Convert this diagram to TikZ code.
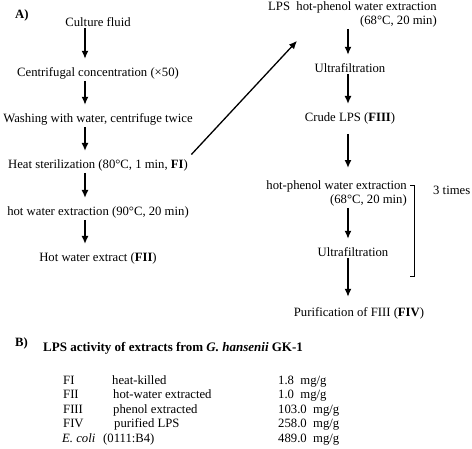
\documentclass[tikz,border=0pt]{standalone}
\usepackage{fontspec}
\setmainfont{Liberation Serif}
\usetikzlibrary{arrows.meta}

\begin{document}
\begin{tikzpicture}[
    x=1pt, y=-1pt,
    every node/.style={inner sep=0pt, font=\fontsize{12.7}{14}\selectfont},
    stage/.style={anchor=base},
    twoline/.style={anchor=north east, align=right},
    row/.style={anchor=base west},
    flow/.style={-{Latex[length=8pt,width=7pt]}, line width=1.6pt, shorten <=2pt, shorten >=8pt}
]
\useasboundingbox (0,0) rectangle (472,448);

% Column guides
\coordinate (lcol) at (85,0);
\coordinate (rcol) at (348,0);

% Panel A, left column
\node[anchor=west, font=\fontsize{12.7}{14}\bfseries] (labA) at (15,15) {A)};
\node[stage] (culture) at (98,26) {Culture fluid};
\node[stage] (centri) at (98,76) {Centrifugal concentration (×50)};
\node[stage] (washing) at (98,122) {Washing with water, centrifuge twice};
\node[stage] (heat) at (98,168) {Heat sterilization (80°C, 1 min, \textbf{FI})};
\node[stage] (hotwater) at (98,215) {hot water extraction (90°C, 20 min)};
\node[stage] (extract) at (98,261) {Hot water extract (\textbf{FII})};

% Panel A, right column
\node[twoline] (lps) at (437,1) {LPS\ \ hot-phenol water extraction\\(68°C, 20 min)};
\node[stage] (ultraA) at (350,72) {Ultrafiltration};
\node[stage] (crude) at (350,121) {Crude LPS (\textbf{FIII})};
\node[twoline] (phenol) at (407,180) {hot-phenol water extraction\\(68°C, 20 min)};
\node[stage] (ultraB) at (353,256) {Ultrafiltration};
\node[stage] (purif) at (359,316) {Purification of FIII (\textbf{FIV})};

% Repeat bracket
\draw[line width=0.8pt] (410,185) -- (414,185) -- (414,276) -- (410,276);
\node[anchor=base west] (times) at (433,194) {3 times};

% Arrows
\draw[flow] (culture.south -| lcol) -- (centri.north -| lcol);
\draw[flow] (centri.south -| lcol) -- (washing.north -| lcol);
\draw[flow] (washing.south -| lcol) -- (heat.north -| lcol);
\draw[flow] (heat.south -| lcol) -- (hotwater.north -| lcol);
\draw[flow] (hotwater.south -| lcol) -- (extract.north -| lcol);
\draw[flow, line width=1.3pt, shorten >=0pt] ([xshift=2pt, yshift=9pt]heat.east) -- ([xshift=29pt, yshift=-14pt]lps.south west);
\draw[flow] (lps.south -| rcol) -- (ultraA.north -| rcol);
\draw[flow] (ultraA.south -| rcol) -- (crude.north -| rcol);
\draw[flow, shorten <=10pt, shorten >=12pt] (crude.south -| rcol) -- (phenol.north -| rcol);
\draw[flow] (phenol.south -| rcol) -- (ultraB.north -| rcol);
\draw[flow, shorten >=10pt] (ultraB.south -| rcol) -- (purif.north -| rcol);

% Panel B
\node[anchor=west, font=\fontsize{12.7}{14}\bfseries] (labB) at (15,343) {B)};
\node[row, font=\fontsize{13}{14}\bfseries] (title) at (43,351) {LPS activity of extracts from \textit{G. hansenii} GK-1};

\node[row] (fi) at (63,384) {FI};
\node[row] (fidesc) at (112,384) {heat-killed};
\node[row] (fival) at (278,384) {1.8\ \ mg/g};
\node[row] (fii) at (63,398.5) {FII};
\node[row] (fiidesc) at (113,398.5) {hot-water extracted};
\node[row] (fiival) at (278,398.5) {1.0\ \ mg/g};
\node[row] (fiii) at (63,413) {FIII};
\node[row] (fiiidesc) at (113,413) {phenol extracted};
\node[row] (fiiival) at (278,413) {103.0\ \ mg/g};
\node[row] (fiv) at (63,427.5) {FIV};
\node[row] (fivdesc) at (114,427.5) {purified LPS};
\node[row] (fivval) at (278,427.5) {258.0\ \ mg/g};
\node[row] (ecoli) at (62,442) {\textit{E. coli}};
\node[row] (ecolidesc) at (103,442) {(0111:B4)};
\node[row] (ecolival) at (278,442) {489.0\ \ mg/g};

\end{tikzpicture}
\end{document}
